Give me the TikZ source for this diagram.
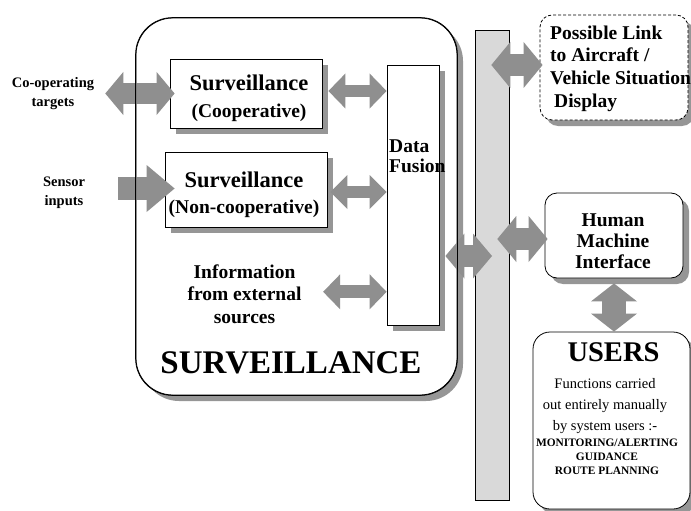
\documentclass[tikz,border=0pt]{standalone}
\usepackage{fontspec}
\setmainfont{Liberation Serif}
\usetikzlibrary{arrows.meta, shadows, calc}
\definecolor{arrowgray}{RGB}{143,143,143}
\definecolor{shadowgray}{RGB}{150,150,150}
\definecolor{busgray}{RGB}{217,217,217}
\tikzset{
  panel/.style={draw, line width=0.8pt, fill=white, inner sep=0pt,
    drop shadow={shadow xshift=6pt, shadow yshift=-6pt, fill=shadowgray, opacity=1}},
  fat/.style n args={3}{draw=arrowgray, line width=#1,
    arrows={Triangle[length=#3 0 0, width=#2 0 0, line width=0pt]-Triangle[length=#3 0 0, width=#2 0 0, line width=0pt]}},
  fatone/.style n args={3}{draw=arrowgray, line width=#1,
    arrows={-Triangle[length=#3 0 0, width=#2 0 0, line width=0pt]}},
  txt/.style={inner sep=0pt, align=center, font=\bfseries\fontsize{19.5}{22.5}\selectfont},
  small/.style={inner sep=0pt, align=center, font=\bfseries\fontsize{14.5}{19}\selectfont},
}
\begin{document}
\begin{tikzpicture}[x=1pt, y=-1pt]
\useasboundingbox (0,0) rectangle (691,511);

\node[panel, rounded corners=37pt, minimum width=321pt, minimum height=377pt] (surv) at (296.5,206.5) {};
\node[panel, minimum width=152pt, minimum height=69pt] (coop) at (246,93.5) {};
\node[panel, minimum width=162pt, minimum height=75pt] (noncoop) at (246,189.5) {};
\node[panel, minimum width=52pt, minimum height=260pt] (fusion) at (413,195) {};
\node[draw, line width=0.6pt, fill=busgray, inner sep=0pt, minimum width=34pt, minimum height=470pt] (bus) at (492,265) {};
\node[panel, dash pattern=on 3pt off 2pt, rounded corners=12pt, minimum width=148pt, minimum height=105pt] (link) at (614,67.5) {};
\node[panel, rounded corners=12pt, minimum width=138pt, minimum height=85pt] (hmi) at (614,235.5) {};
\node[panel, rounded corners=17pt, minimum width=157pt, minimum height=177pt] (users) at (611.5,420.5) {};

\node[small] (cotgt) at (53,94) {Co-operating\\targets};
\node[small] (sensor) at (64,192.5) {Sensor\\inputs};
\node[txt, font=\bfseries\fontsize{22.5}{27}\selectfont] (cooptxt) at (249,98) {Surveillance\\\fontsize{19.5}{27}\selectfont(Cooperative)};
\node[txt, font=\bfseries\fontsize{22.5}{26}\selectfont] (noncooptxt) at (244,194.5) {Surveillance\\\fontsize{19.5}{26}\selectfont(Non-cooperative)};
\node[txt, align=left, anchor=west, font=\bfseries\fontsize{19.5}{20}\selectfont] (fusiontxt) at (389,156.5) {Data\\Fusion};
\node[txt] (info) at (244.5,293.8) {Information\\from external\\sources};
\node[txt, anchor=base, font=\bfseries\fontsize{33}{36}\selectfont] (survtxt) at (291,373) {SURVEILLANCE};
\node[txt, align=left, anchor=west, font=\bfseries\fontsize{19.5}{22.7}\selectfont] (linktxt) at (550,68.4) {Possible Link\\to Aircraft /\\Vehicle Situation\\\hspace{4pt}Display};
\node[txt, font=\bfseries\fontsize{19.5}{21.3}\selectfont] (hmitxt) at (613,241.4) {Human\\Machine\\Interface};
\node[txt, anchor=base, font=\bfseries\fontsize{28.5}{30}\selectfont] (userstxt) at (613.5,361.5) {USERS};
\node[txt, font=\fontsize{14.5}{21}\selectfont] (functxt) at (605,405.6) {Functions carried\\out entirely manually\\by system users :-};
\node[txt, font=\bfseries\fontsize{11.4}{14}\selectfont] (tasktxt) at (607,457) {MONITORING/ALERTING\\GUIDANCE\\ROUTE PLANNING};

\draw[fat={20pt}{43pt}{18pt}] ($(cotgt.east |- coop.west)+(11,0)$) -- ($(coop.west)+(5,0)$);
\draw[fatone={23pt}{47pt}{28pt}] ($(sensor.east |- noncoop.west)+(33,-1)$) -- ($(noncoop.west)+(10,-1)$);
\draw[fat={12pt}{35pt}{17pt}] ($(coop.east)+(6,-2.5)$) -- ($(coop.east -| fusion.west)+(0,-2.5)$);
\draw[fat={12pt}{34pt}{17pt}] ($(noncoop.east)+(3,2.5)$) -- ($(noncoop.east -| fusion.west)+(0,2.5)$);
\draw[fat={13pt}{35pt}{17pt}] ($(info.east)+(21.5,-2)$) -- ($(info.east -| fusion.west)+(0,-2)$);
\draw[fat={22pt}{45pt}{19pt}] ($(fusion.east)+(6,61)$) -- ($(fusion.east -| bus.center)+(0,61)$);
\draw[fat={22pt}{46pt}{19pt}] ($(link.west -| bus.east)+(-18,-2.5)$) -- ($(link.west)+(3,-2.5)$);
\draw[fat={22pt}{46pt}{19pt}] ($(hmi.west -| bus.east)+(-12,3.5)$) -- ($(hmi.west)+(3,3.5)$);
\draw[fat={24pt}{46pt}{18pt}] ($(hmi.south)+(0,5)$) -- (hmi.south |- users.north);

\draw[line width=0.8pt, rounded corners=37pt] (surv.north west) rectangle (surv.south east);
\end{tikzpicture}
\end{document}
